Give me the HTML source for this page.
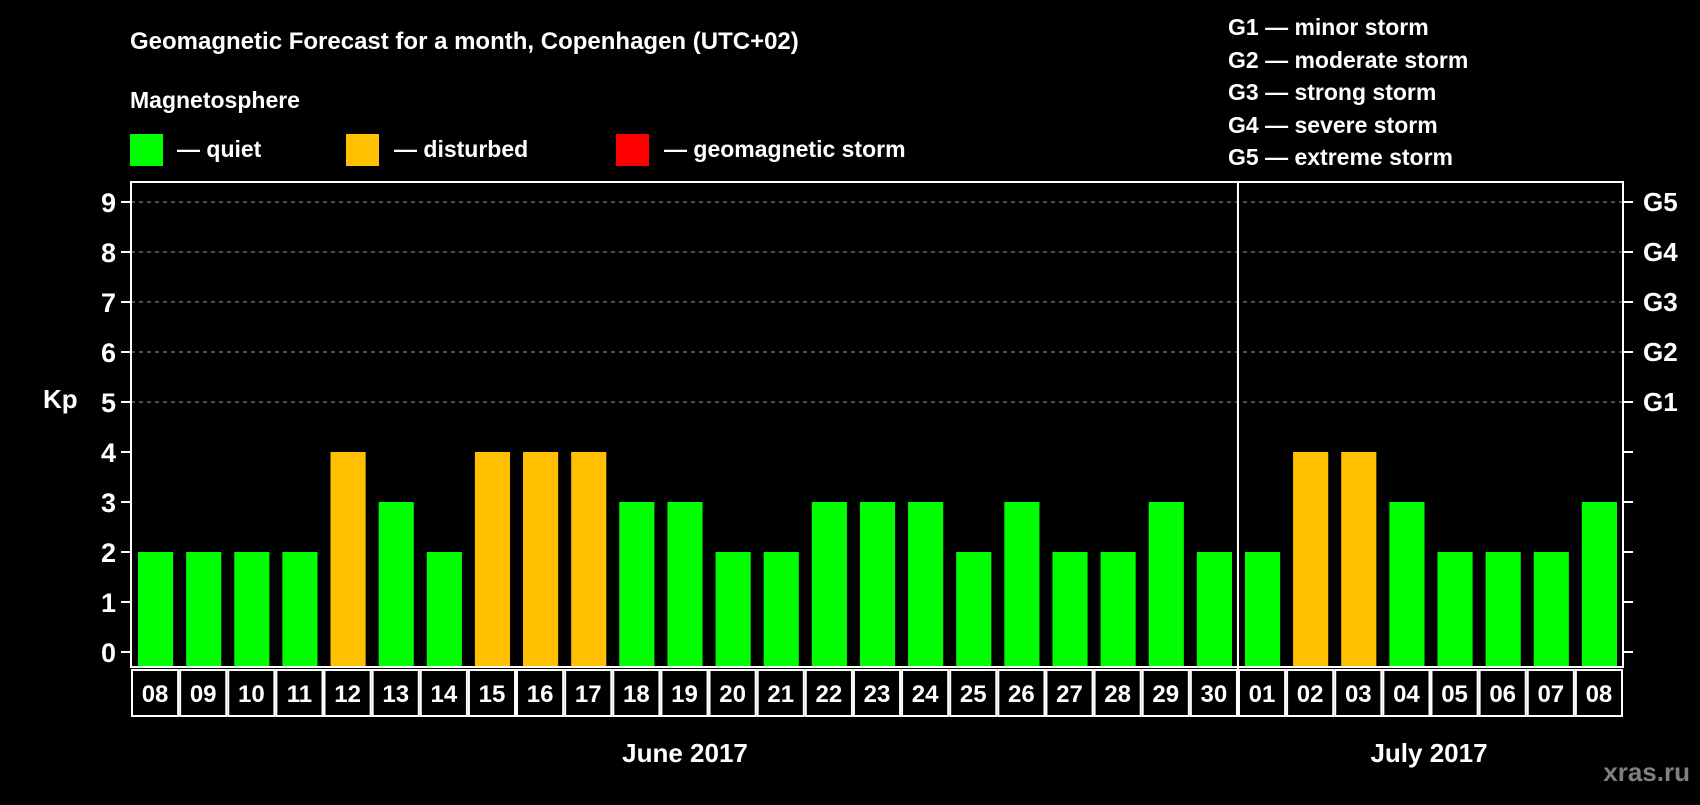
<!DOCTYPE html>
<html><head><meta charset="utf-8"><style>
body{margin:0;background:#000;}
svg text{font-family:"Liberation Sans",Arial,sans-serif;font-weight:bold;fill:#fff;}
</style></head><body>
<svg id="c" width="1700" height="800" viewBox="0 0 1700 800">
<rect width="1700" height="800" fill="#000"/>
<text x="130" y="49" font-size="24">Geomagnetic Forecast for a month, Copenhagen (UTC+02)</text>
<text x="130" y="108" font-size="23">Magnetosphere</text>
<g><rect x="130" y="134" width="33" height="32" fill="#00ff00"/><text x="177" y="157" font-size="23">— quiet</text></g>
<g><rect x="346" y="134" width="33" height="32" fill="#ffc000"/><text x="394" y="157" font-size="23">— disturbed</text></g>
<g><rect x="616" y="134" width="33" height="32" fill="#ff0000"/><text x="664" y="157" font-size="23">— geomagnetic storm</text></g>
<g font-size="23">
<text x="1228" y="35">G1 — minor storm</text>
<text x="1228" y="68">G2 — moderate storm</text>
<text x="1228" y="100">G3 — strong storm</text>
<text x="1228" y="133">G4 — severe storm</text>
<text x="1228" y="165">G5 — extreme storm</text>
</g>
<text x="43" y="408" font-size="26">Kp</text>
<g id="plot"></g>
<text x="685" y="762" font-size="26" text-anchor="middle">June 2017</text>
<text x="1429" y="762" font-size="26" text-anchor="middle">July 2017</text>
<text x="1690" y="781" font-size="26" text-anchor="end" style="fill:#808080">xras.ru</text>
</svg>
<script>
const days=["08","09","10","11","12","13","14","15","16","17","18","19","20","21","22","23","24","25","26","27","28","29","30","01","02","03","04","05","06","07","08"];
const kpValues=[2,2,2,2,4,3,2,4,4,4,3,3,2,2,3,3,3,2,3,2,2,3,2,2,4,4,3,2,2,2,3];
const yTicks=[0,1,2,3,4,5,6,7,8,9];
const gLabels=["G1","G2","G3","G4","G5"];
const gLevels=[5,6,7,8,9];
const NS="http://www.w3.org/2000/svg";
const L=131,R=1623,T=182,B=667;
const slot=(R-L)/days.length;
const y=v=>652-v*50;
const x=i=>L+i*slot;
const g=document.getElementById('plot');
function el(tag,attrs,parent){const e=document.createElementNS(NS,tag);for(const k in attrs)e.setAttribute(k,attrs[k]);(parent||g).appendChild(e);return e;}
gLevels.forEach((v,i)=>{
 const ln=el('line',{x1:L,x2:R,y1:y(v),y2:y(v),stroke:'#999','stroke-dasharray':'4,4','stroke-width':1});
 
 
 const t=el('text',{x:1643,y:y(v)+9,'font-size':26});
 t.textContent=gLabels[i];
 
 
});
yTicks.forEach(v=>{
 el('line',{x1:121,x2:L,y1:y(v),y2:y(v),stroke:'#fff','stroke-width':2});
 el('line',{x1:R,x2:1633,y1:y(v),y2:y(v),stroke:'#fff','stroke-width':2});
 const t=el('text',{x:116,y:y(v)+10,'font-size':27,'text-anchor':'end'});
 t.textContent=v;
 
 
});
kpValues.forEach((v,i)=>{
 const r=el('rect',{x:x(i)+7,y:y(v),width:slot-13,height:B-y(v)-1,fill:v>=5?'#ff0000':(v>=4?'#ffc000':'#00ff00')});
 
 
 const c=el('rect',{x:x(i)+1,y:670,width:slot-2,height:46,fill:'none',stroke:'#fff','stroke-width':2});
 
 
 const t=el('text',{x:x(i)+slot/2,y:702,'font-size':24,'text-anchor':'middle'});
 t.textContent=days[i];
 
 
});
const fr=el('rect',{x:L,y:T,width:R-L,height:B-T,fill:'none',stroke:'#fff','stroke-width':2});


const sep=el('line',{x1:x(23),x2:x(23),y1:T,y2:716,stroke:'#fff','stroke-width':2});


</script>
</body></html>
